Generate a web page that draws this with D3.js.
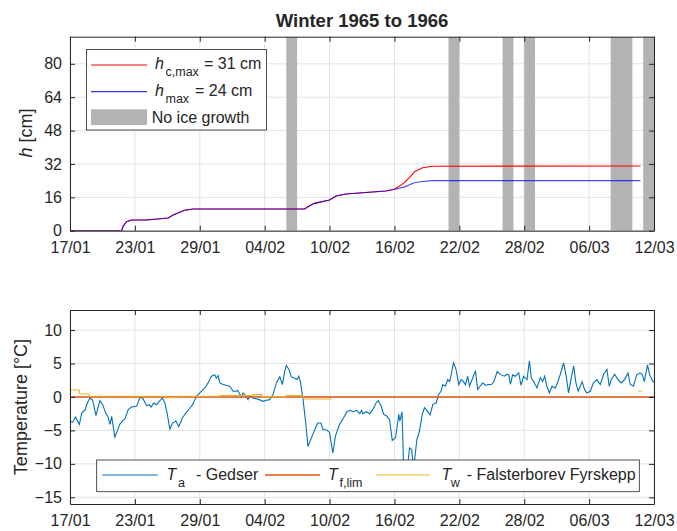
<!DOCTYPE html>
<html>
<head>
<meta charset="utf-8">
<script src="https://cdn.jsdelivr.net/npm/d3@7"></script>
<style>
body { margin: 0; background: #fff; }
text { font-family: "Liberation Sans", Arial, Helvetica, sans-serif; fill: #262626; }
</style>
</head>
<body>
<svg id="fig" width="677" height="531"></svg>
<script>
// ---------- data (days since 17/01/1966) ----------
const tickLabels = ["17/01","23/01","29/01","04/02","10/02","16/02","22/02","28/02","06/03","12/03"];
const tickDays = [0, 6, 12, 18, 24, 30, 36, 42, 48, 54];

// ice thickness
const hDays  = [0, 4.77, 4.92, 5.23, 5.7, 7.08, 9.08, 9.54, 10.6, 11.4, 21.7, 22.0, 22.6, 24.0, 24.6, 25.5, 29.2, 30.0, 30.9, 31.5, 31.85, 32.6, 33.5, 52.75];
const hcMax  = [0, 0, 2.2, 4.3, 5.1, 5.1, 6.1, 7.5, 9.8, 10.4, 10.4, 11.5, 13.1, 14.7, 16.6, 17.6, 19.0, 19.9, 22.9, 26.0, 28.3, 30.2, 30.9, 31];
const hMax   = [0, 0, 2.2, 4.3, 5.1, 5.1, 6.1, 7.5, 9.8, 10.4, 10.4, 11.5, 13.1, 14.7, 16.6, 17.6, 19.0, 19.9, 20.9, 22.3, 23.0, 23.6, 24.0, 24];

// periods without ice growth
const noIceStart = [20, 35, 40, 42, 50, 53];
const noIceEnd   = [21, 36, 41, 43, 52, 54];

// air temperature, Gedser
const taDays = [0, 0.25, 0.5, 0.87, 1.08, 1.4, 1.6, 1.85, 2.1, 2.4, 2.62, 2.77, 3.02, 3.3, 3.5, 3.7, 3.85, 4.15, 4.37, 4.6, 4.86, 5.08, 5.38, 5.69, 6.15, 6.46, 6.6, 6.8, 7.08, 7.33, 7.5, 7.75, 8.0, 8.25, 8.55, 8.77, 8.98, 9.23, 9.48, 9.79, 10.06, 10.4, 10.71, 11.02, 11.33, 11.7, 12.0, 12.46, 12.77, 12.93, 13.08, 13.39, 13.54, 13.7, 13.85, 14.15, 14.77, 15.08, 15.39, 15.5, 15.85, 16.0, 16.3, 16.46, 16.6, 16.9, 17.5, 17.85, 18.15, 18.46, 18.77, 19.08, 19.4, 19.64, 19.85, 20.0, 20.25, 20.46, 20.77, 21.0, 21.15, 21.3, 21.55, 21.8, 22.0, 22.2, 22.5, 22.9, 23.2, 23.4, 23.7, 24.0, 24.3, 24.55, 24.9, 25.3, 25.6, 25.9, 26.2, 26.5, 26.8, 26.96, 27.08, 27.4, 27.7, 28.0, 28.3, 28.5, 28.78, 29.0, 29.25, 29.55, 29.8, 30.1, 30.4, 30.5, 30.7, 30.87, 31.1, 31.4, 31.6, 31.76, 32.07, 32.3, 32.57, 32.78, 33.08, 33.3, 33.55, 33.86, 34.07, 34.3, 34.47, 34.7, 34.93, 35.1, 35.24, 35.46, 35.7, 35.95, 36.17, 36.38, 36.56, 36.78, 36.94, 37.18, 37.49, 37.7, 37.92, 38.16, 38.4, 38.72, 39.0, 39.2, 39.5, 39.85, 40.17, 40.44, 40.57, 40.72, 40.93, 41.18, 41.49, 41.7, 41.95, 42.26, 42.48, 42.66, 42.88, 43.18, 43.49, 43.7, 43.89, 44.1, 44.32, 44.57, 44.87, 45.12, 45.34, 45.64, 45.86, 46.1, 46.35, 46.57, 46.78, 47.0, 47.35, 47.58, 47.8, 48.1, 48.4, 48.72, 49.03, 49.34, 49.65, 49.86, 50.05, 50.36, 50.67, 50.97, 51.28, 51.6, 51.8, 52.1, 52.4, 52.72, 52.93, 53.1, 53.4, 53.6, 53.9, 54.0];
const taGedser = [-3.6, -3.8, -3.0, -4.1, -2.4, -1.9, -0.9, -0.15, -0.5, -2.8, -1.4, -0.55, -1.15, -2.4, -2.9, -4.1, -2.9, -6.0, -5.1, -4.1, -3.6, -3.3, -1.9, -1.5, -1.4, -0.15, 0, -0.4, -1.3, -1.15, -1.5, -0.9, -1.15, -0.65, -0.15, -0.9, -2.4, -4.8, -3.9, -3.6, -4.4, -3.1, -2.4, -1.8, -1.15, 0.1, 0.6, 1.35, 2.1, 2.6, 3.1, 3.3, 2.8, 3.2, 2.1, 1.85, 1.6, 0.85, 0.85, 1.0, 0, 0.6, 0.1, -0.4, 0.2, -0.15, -0.4, -0.65, -0.5, -0.4, 0.35, 2.1, 3.0, 1.85, 3.8, 4.7, 4.1, 3.0, 2.8, 2.6, 3.1, 2.3, -0.4, -3.9, -7.4, -6.6, -5.4, -3.9, -3.9, -4.9, -4.9, -5.3, -8.4, -5.8, -4.2, -3.1, -2.2, -2.0, -2.2, -2.0, -2.5, -2.0, -2.5, -2.2, -2.5, -1.9, -0.9, -0.55, -1.4, -2.6, -2.8, -3.4, -6.5, -6.1, -2.6, -3.6, -2.2, -11.5, -12, -7.6, -7.9, -11, -6.4, -5.2, -2.6, -1.6, -2.2, -2.7, -1.1, -0.9, 0.35, 0.85, 1.85, 1.6, 2.6, 2.3, 3.3, 5.1, 4.1, 1.85, 2.6, 2.3, 1.85, 3.1, 1.6, 2.6, 3.9, 1.1, 1.6, 2.1, 1.75, 1.85, 1.9, 2.3, 3.8, 3.3, 3.1, 3.4, 3.3, 1.9, 3.3, 3.1, 3.6, 1.75, 3.1, 2.6, 5.4, 2.8, 2.3, 1.35, 2.9, 2.3, 3.1, 1.6, 0.6, 1.6, 1.35, 2.3, 3.4, 5.1, 3.3, 0.6, 2.9, 4.6, 2.1, 0.85, 2.3, 1.1, 0.6, 0.85, 2.1, 2.6, 1.85, 3.4, 4.1, 1.6, 2.6, 3.4, 2.6, 2.1, 2.6, 3.6, 1.9, 1.6, 3.3, 3.6, 3.3, 2.3, 4.8, 3.3, 2.3, 2.2];

// freezing limit
const tfDays = [0, 54];
const tfLim  = [0, 0];

// water temperature, Falsterborev Fyrskepp (null = no data)
const twDays = [0, 0.85, 0.9, 1.75, 1.8, 8.85, 8.9, 9.8, 9.85, 13.8, 13.9, 16.8, 16.9, 17.7, 17.8, 19.9, 20.0, 21.4, 21.7, 24.2, 24.3, 52.55, 52.9];
const twFyr  = [1.05, 1.05, 0.45, 0.45, 0.1, 0.1, -0.1, -0.1, 0.1, 0.1, 0.2, 0.2, 0.35, 0.35, 0.05, 0.05, 0.2, 0.2, -0.3, -0.3, null, 0.9, 0.9];

// ---------- layout ----------
const svg = d3.select("#fig");
const t0 = Date.UTC(1966, 0, 17);
const toDate = d => new Date(t0 + d * 864e5);
const L = 70, R = 654;
const x = d3.scaleUtc().domain([toDate(0), toDate(54)]).range([L, R]);

const yTop = d3.scaleLinear().domain([0, 93]).range([230.7, 36.7]);
const yBot = d3.scaleLinear().domain([-16, 13]).range([504, 310]);

const gridCol = "#e2e2e2", axCol = "#262626";

function drawAxesFrame(y, yTicks, id) {
  const g = svg.append("g");
  const y0 = y.range()[0], y1 = y.range()[1];
  // grid
  g.selectAll(".gx").data(tickDays).enter().append("line")
    .attr("x1", d => x(toDate(d))).attr("x2", d => x(toDate(d)))
    .attr("y1", y0).attr("y2", y1).attr("stroke", gridCol).attr("stroke-width", 1);
  g.selectAll(".gy").data(yTicks).enter().append("line")
    .attr("x1", L).attr("x2", R)
    .attr("y1", d => y(d)).attr("y2", d => y(d)).attr("stroke", gridCol).attr("stroke-width", 1);
  svg.append("clipPath").attr("id", id).append("rect")
    .attr("x", L).attr("y", y1).attr("width", R - L).attr("height", y0 - y1);
  return g;
}

function drawAxes(y, yTicks) {
  const y0 = y.range()[0], y1 = y.range()[1];
  const bottom = svg.append("g").attr("transform", "translate(0," + y0 + ")")
    .call(d3.axisBottom(x).tickValues(tickDays.map(toDate))
      .tickFormat((d, i) => tickLabels[i]).tickSizeInner(-5).tickSizeOuter(0).tickPadding(11));
  const top = svg.append("g").attr("transform", "translate(0," + y1 + ")")
    .call(d3.axisTop(x).tickValues(tickDays.map(toDate)).tickFormat("").tickSizeInner(-5).tickSizeOuter(0));
  const left = svg.append("g").attr("transform", "translate(" + L + ",0)")
    .call(d3.axisLeft(y).tickValues(yTicks).tickSizeInner(-5).tickSizeOuter(0).tickPadding(8));
  const right = svg.append("g").attr("transform", "translate(" + R + ",0)")
    .call(d3.axisRight(y).tickValues(yTicks).tickFormat("").tickSizeInner(-5).tickSizeOuter(0));
  [bottom, top, left, right].forEach(a => {
    a.selectAll("path, line").attr("stroke", axCol);
    a.selectAll("text").attr("font-size", 16).attr("fill", axCol)
      .style("font-family", "'Liberation Sans', Arial, sans-serif");
  });
}

// ---------- top panel ----------
const hTicks = [0, 16, 32, 48, 64, 80];
drawAxesFrame(yTop, hTicks, "clipTop");
const topData = svg.append("g").attr("clip-path", "url(#clipTop)");

topData.selectAll(".noice").data(noIceStart).enter().append("rect")
  .attr("x", d => x(toDate(d)))
  .attr("width", (d, i) => x(toDate(noIceEnd[i])) - x(toDate(d)))
  .attr("y", yTop.range()[1]).attr("height", yTop.range()[0] - yTop.range()[1])
  .attr("fill", "#b3b3b3");

const lineH = vals => d3.line().x((d, i) => x(toDate(hDays[i]))).y(d => yTop(d))(vals);
topData.append("path").attr("d", lineH(hcMax)).attr("fill", "none").attr("stroke", "#ff0000").attr("stroke-width", 1.1);
topData.append("path").attr("d", lineH(hMax)).attr("fill", "none").attr("stroke", "#0000ff").attr("stroke-width", 1.1).attr("stroke-opacity", 0.72);

drawAxes(yTop, hTicks);

svg.append("text").attr("x", 362).attr("y", 26.5).attr("text-anchor", "middle")
  .attr("font-size", 18.5).attr("font-weight", "bold").attr("fill", "#000").text("Winter 1965 to 1966");

svg.append("text").attr("transform", "translate(32,133) rotate(-90)").attr("text-anchor", "middle")
  .attr("font-size", 18)
  .call(t => { t.append("tspan").attr("font-style", "italic").text("h"); t.append("tspan").text(" [cm]"); });

// top legend
const lg1 = svg.append("g");
lg1.append("rect").attr("x", 86.5).attr("y", 49.5).attr("width", 180).attr("height", 80.5)
  .attr("fill", "#fff").attr("stroke", axCol).attr("stroke-width", 0.8);
lg1.append("line").attr("x1", 91).attr("x2", 147).attr("y1", 65).attr("y2", 65).attr("stroke", "#ff0000");
lg1.append("line").attr("x1", 91).attr("x2", 147).attr("y1", 91.7).attr("y2", 91.7).attr("stroke", "#0000ff");
lg1.append("rect").attr("x", 91).attr("y", 109.3).attr("width", 56).attr("height", 15.7).attr("fill", "#b3b3b3");
lg1.append("text").attr("x", 155).attr("y", 69).attr("font-size", 16).attr("font-style", "italic").text("h");
lg1.append("text").attr("x", 165.5).attr("y", 75.5).attr("font-size", 12.5).text("c,max");
lg1.append("text").attr("x", 204).attr("y", 69).attr("font-size", 16).text("= 31 cm");
lg1.append("text").attr("x", 155).attr("y", 96.3).attr("font-size", 16).attr("font-style", "italic").text("h");
lg1.append("text").attr("x", 165.5).attr("y", 102.5).attr("font-size", 12.5).text("max");
lg1.append("text").attr("x", 195).attr("y", 96.3).attr("font-size", 16).text("= 24 cm");
lg1.append("text").attr("x", 151.7).attr("y", 122.7).attr("font-size", 16).text("No ice growth");

// ---------- bottom panel ----------
const tTicks = [-15, -10, -5, 0, 5, 10];
drawAxesFrame(yBot, tTicks, "clipBot");
const botData = svg.append("g").attr("clip-path", "url(#clipBot)");

botData.append("path")
  .attr("d", d3.line().x((d, i) => x(toDate(taDays[i]))).y(d => yBot(d))(taGedser))
  .attr("fill", "none").attr("stroke", "#0072bd").attr("stroke-width", 1.1);
botData.append("path")
  .attr("d", d3.line().x((d, i) => x(toDate(tfDays[i]))).y(d => yBot(d))(tfLim))
  .attr("fill", "none").attr("stroke", "#d95319").attr("stroke-width", 1.6);
botData.append("path")
  .attr("d", d3.line().defined(d => d !== null).x((d, i) => x(toDate(twDays[i]))).y(d => yBot(d))(twFyr))
  .attr("fill", "none").attr("stroke", "#edb120").attr("stroke-width", 1.1);

drawAxes(yBot, tTicks);

svg.append("text").attr("transform", "translate(27,407) rotate(-90)").attr("text-anchor", "middle")
  .attr("font-size", 18).text("Temperature [°C]");

// bottom legend
const lg2 = svg.append("g");
lg2.append("rect").attr("x", 96.7).attr("y", 460).attr("width", 542.6).attr("height", 31.7)
  .attr("fill", "#fff").attr("stroke", axCol).attr("stroke-width", 0.8);
lg2.append("line").attr("x1", 102.3).attr("x2", 157.7).attr("y1", 475).attr("y2", 475).attr("stroke", "#0072bd");
lg2.append("line").attr("x1", 265).attr("x2", 320).attr("y1", 475).attr("y2", 475).attr("stroke", "#d95319").attr("stroke-width", 1.5);
lg2.append("line").attr("x1", 375.7).attr("x2", 430).attr("y1", 475).attr("y2", 475).attr("stroke", "#edb120");
lg2.append("text").attr("x", 166.5).attr("y", 480).attr("font-size", 16).attr("font-style", "italic").text("T");
lg2.append("text").attr("x", 178).attr("y", 486.5).attr("font-size", 12.5).text("a");
lg2.append("text").attr("x", 196).attr("y", 480).attr("font-size", 16).text("- Gedser");
lg2.append("text").attr("x", 328).attr("y", 480).attr("font-size", 16).attr("font-style", "italic").text("T");
lg2.append("text").attr("x", 339.5).attr("y", 486.5).attr("font-size", 12.5).text("f,lim");
lg2.append("text").attr("x", 441.5).attr("y", 480).attr("font-size", 16).attr("font-style", "italic").text("T");
lg2.append("text").attr("x", 450.7).attr("y", 486.5).attr("font-size", 12.5).text("w");
lg2.append("text").attr("x", 466.7).attr("y", 480).attr("font-size", 16).text("- Falsterborev Fyrskepp");
</script>
</body>
</html>
